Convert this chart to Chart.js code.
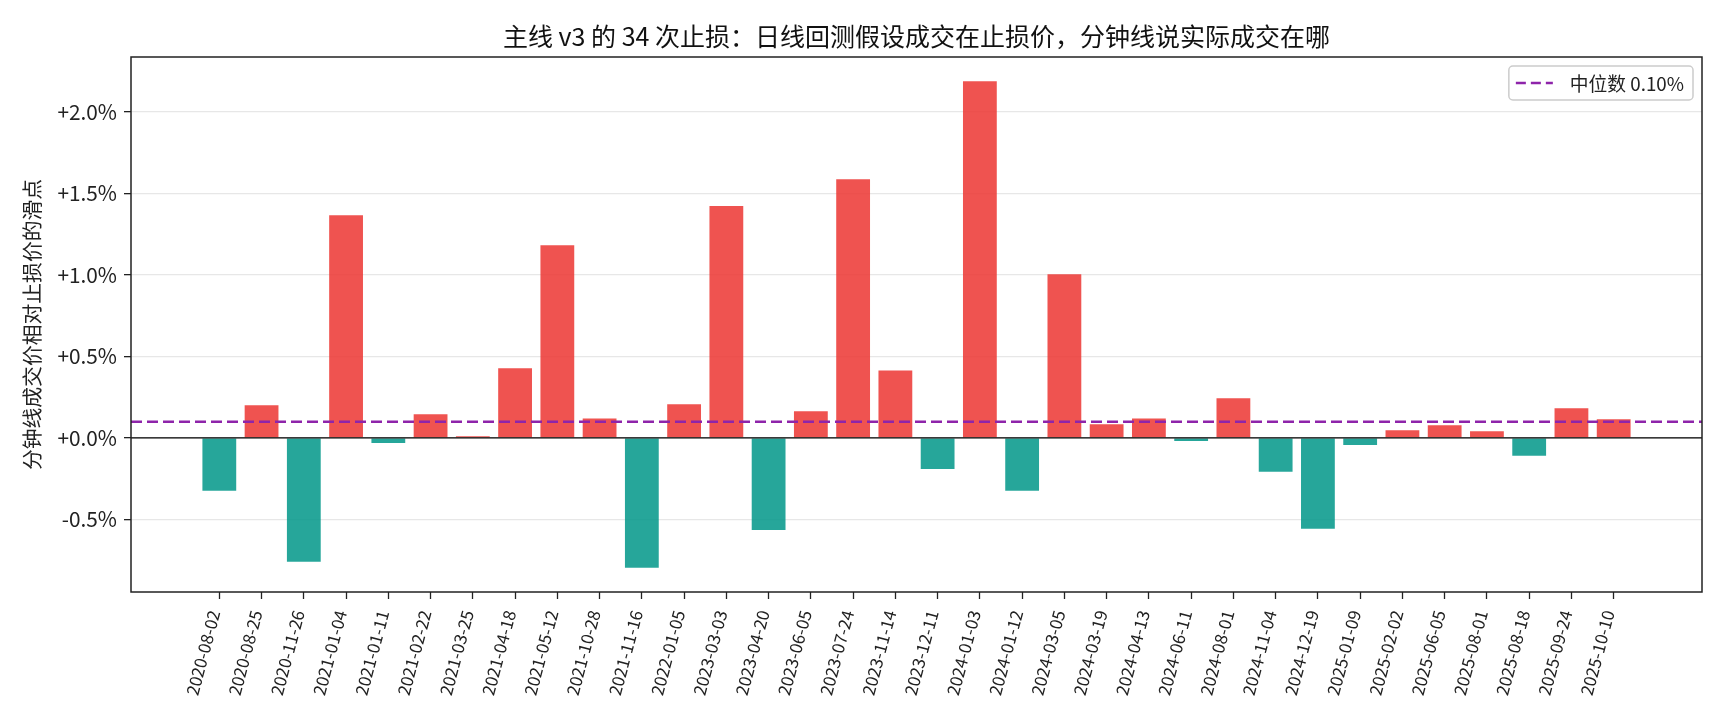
<!DOCTYPE html>
<html>
<head>
<meta charset="utf-8">
<script src="https://cdn.jsdelivr.net/npm/chart.js@4"></script>
<style>
  html, body { margin: 0; padding: 0; background: #fff; }
  #wrap { width: 1725px; height: 720px; }
</style>
</head>
<body>
<div id="wrap"><canvas id="slipChart" width="1725" height="720"></canvas></div>
<script>
    const stopDates = [
      '2020-08-02', '2020-08-25', '2020-11-26', '2021-01-04', '2021-01-11', '2021-02-22',
      '2021-03-25', '2021-04-18', '2021-05-12', '2021-10-28', '2021-11-16', '2022-01-05',
      '2023-03-03', '2023-04-20', '2023-06-05', '2023-07-24', '2023-11-14', '2023-12-11',
      '2024-01-03', '2024-01-12', '2024-03-05', '2024-03-19', '2024-04-13', '2024-06-11',
      '2024-08-01', '2024-11-04', '2024-12-19', '2025-01-09', '2025-02-02', '2025-06-05',
      '2025-08-01', '2025-08-18', '2025-09-24', '2025-10-10'
    ];

    // slippage of the minute-bar fill vs. the stop price, in %
    const slippage = [
      -0.324, 0.200, -0.759, 1.366, -0.031, 0.145,
      0.010, 0.427, 1.182, 0.120, -0.796, 0.206,
      1.423, -0.565, 0.163, 1.587, 0.414, -0.190,
      2.188, -0.324, 1.004, 0.084, 0.120, -0.018,
      0.243, -0.208, -0.557, -0.043, 0.047, 0.078,
      0.041, -0.110, 0.182, 0.114
    ];

    const yTickStep = 0.5;

    const FONT = "'Noto Sans CJK SC', 'Noto Sans', sans-serif";
    const INK = '#222222';
    const UP_COLOR = 'rgba(236, 53, 49, 0.85)';
    const DOWN_COLOR = 'rgba(0, 150, 136, 0.85)';
    const MEDIAN_COLOR = '#8e24aa';

    function median(values) {
      const s = values.slice().sort((a, b) => a - b);
      const m = Math.floor(s.length / 2);
      return s.length % 2 ? s[m] : (s[m - 1] + s[m]) / 2;
    }

    const med = median(slippage);

    // matplotlib-like 5% margins around the data extent
    const barWidth = 0.8;
    const xSpan = (stopDates.length - 1) + barWidth;
    const xMin = -barWidth / 2 - 0.05 * xSpan;
    const xMax = stopDates.length - 1 + barWidth / 2 + 0.05 * xSpan;
    const dataMin = Math.min(0, ...slippage);
    const dataMax = Math.max(0, ...slippage);
    const yMin = dataMin - 0.05 * (dataMax - dataMin);
    const yMax = dataMax + 0.05 * (dataMax - dataMin);

    const frame = {
      id: 'frame',
      afterDatasetsDraw(chart) {
        const { ctx, chartArea, scales } = chart;
        const y0 = scales.y.getPixelForValue(0);
        ctx.save();
        ctx.strokeStyle = '#000';
        ctx.lineWidth = 1.3;
        ctx.beginPath();
        ctx.moveTo(chartArea.left, y0);
        ctx.lineTo(chartArea.right, y0);
        ctx.stroke();
        ctx.restore();
      },
      afterDraw(chart) {
        const { ctx, chartArea } = chart;
        ctx.save();
        ctx.strokeStyle = INK;
        ctx.lineWidth = 1.5;
        ctx.strokeRect(chartArea.left, chartArea.top,
          chartArea.right - chartArea.left, chartArea.bottom - chartArea.top);

        // legend box in the upper right corner of the plot
        const label = chart.data.datasets[0].label;
        ctx.font = '18.75px ' + FONT;
        const tw = ctx.measureText(label).width;
        const w = 61 + tw + 9;
        const h = 34;
        const x = chartArea.right - 9 - w;
        const y = chartArea.top + 9;
        ctx.fillStyle = 'rgba(255,255,255,0.8)';
        ctx.strokeStyle = '#cccccc';
        ctx.lineWidth = 1.5;
        ctx.beginPath();
        ctx.roundRect(x, y, w, h, 4);
        ctx.fill();
        ctx.stroke();
        ctx.strokeStyle = MEDIAN_COLOR;
        ctx.lineWidth = 2.6;
        ctx.setLineDash([10, 5]);
        ctx.beginPath();
        ctx.moveTo(x + 7, y + h / 2);
        ctx.lineTo(x + 44, y + h / 2);
        ctx.stroke();
        ctx.setLineDash([]);
        ctx.fillStyle = INK;
        ctx.textBaseline = 'middle';
        ctx.fillText(label, x + 61, y + h / 2 + 1);
        ctx.restore();
      }
    };

    function buildChart() {
      const ctx = document.getElementById('slipChart').getContext('2d');
      const bars = slippage.map((v, i) => ({ x: i, y: v }));

      new Chart(ctx, {
        type: 'bar',
        data: {
          datasets: [{
            type: 'line',
            label: '中位数 ' + med.toFixed(2) + '%',
            data: [{ x: xMin, y: med }, { x: xMax, y: med }],
            borderColor: MEDIAN_COLOR,
            borderWidth: 2.6,
            borderDash: [11, 5],
            pointRadius: 0,
            fill: false,
            order: 0
          }, {
            label: 'slippage',
            data: bars,
            backgroundColor: slippage.map(v => v >= 0 ? UP_COLOR : DOWN_COLOR),
            borderWidth: 0,
            barPercentage: barWidth,
            categoryPercentage: 1.0,
            order: 1
          }]
        },
        options: {
          responsive: false,
          animation: false,
          events: [],
          layout: { padding: { left: 0, right: 23, top: 0, bottom: 0 } },
          plugins: {
            legend: { display: false },
            tooltip: { enabled: false },
            title: {
              display: true,
              fullSize: false,
              text: '主线 v3 的 34 次止损：日线回测假设成交在止损价，分钟线说实际成交在哪',
              color: '#111',
              font: { family: FONT, size: 25, weight: 'normal' },
              padding: { top: 21, bottom: 6 }
            }
          },
          scales: {
            x: {
              type: 'linear',
              min: xMin,
              max: xMax,
              offset: false,
              afterBuildTicks: axis => {
                axis.ticks = stopDates.map((d, i) => ({ value: i }));
              },
              afterFit: scale => { scale.height = 128; },
              ticks: {
                autoSkip: false,
                minRotation: 75,
                maxRotation: 75,
                padding: 9,
                labelOffset: -5,
                color: INK,
                font: { family: FONT, size: 17 },
                callback: value => stopDates[value]
              },
              grid: {
                offset: false,
                drawOnChartArea: false,
                tickLength: 7,
                tickColor: INK,
                tickWidth: 1.3
              },
              border: { display: false }
            },
            y: {
              min: yMin,
              max: yMax,
              afterFit: scale => { scale.width = 131; },
              ticks: {
                stepSize: yTickStep,
                includeBounds: false,
                padding: 7,
                color: INK,
                font: { family: FONT, size: 20.8 },
                callback: v => (v >= 0 ? '+' : '') + (Math.abs(v) < 1e-9 ? 0 : v).toFixed(1) + '%'
              },
              grid: {
                color: 'rgba(176,176,176,0.3)',
                lineWidth: 1.3,
                tickLength: 7,
                tickColor: INK,
                tickWidth: 1.3
              },
              border: { display: false },
              title: {
                display: true,
                text: '分钟线成交价相对止损价的滑点',
                color: INK,
                font: { family: FONT, size: 20.8 },
                padding: { top: 20, bottom: 0 }
              }
            }
          }
        },
        plugins: [frame]
      });
    }

    window.addEventListener('load', buildChart);
</script>
</body>
</html>
